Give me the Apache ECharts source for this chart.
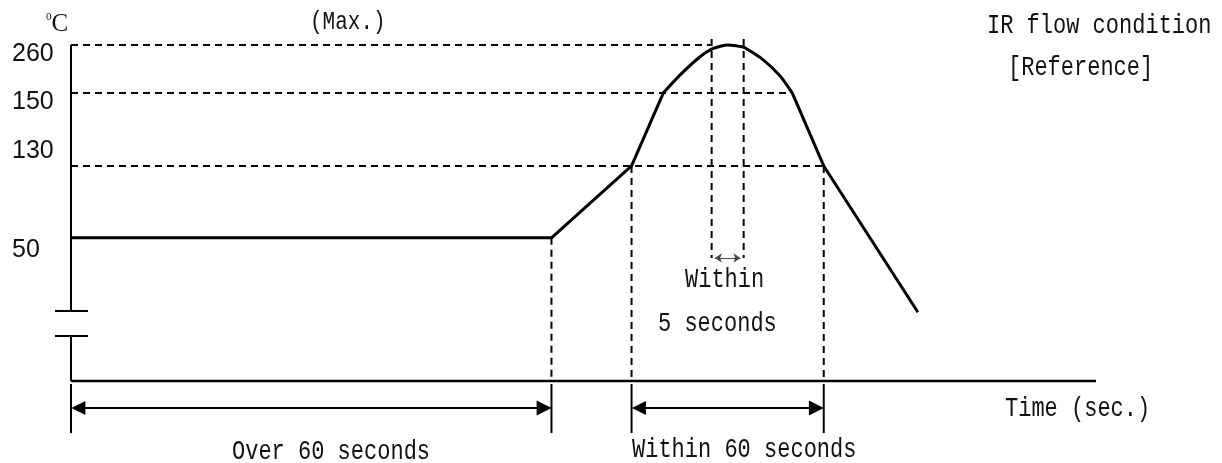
<!DOCTYPE html>
<html><head><meta charset="utf-8">
<script src="https://cdn.jsdelivr.net/npm/echarts@6/dist/echarts.min.js"></script>
<style>html,body{margin:0;padding:0;background:#fff}#c{width:1222px;height:463px}</style>
</head><body><div id="c"></div>
<script>
// ---- data (time in schematic seconds, temperature in °C) ----
const yTickLabels = ['260', '150', '130', '50'];
const yTickTemps = [260, 150, 130, 50];
const rampTime = [0, 150, 175, 184.9];
const rampTemp = [50, 50, 130, 150];
const peakTime = [184.9, 190.1, 196.4, 200.5, 205.0, 209.9, 216.1, 221.4, 225.2];
const peakTemp = [150, 191, 233, 252, 260, 255, 226, 189, 150];
const coolTime = [225.2, 235, 264.4];
const coolTemp = [150, 130, 24];
const peakWindow = [200, 210];      // "Within 5 seconds"
const preheatSpan = [0, 150];       // "Over 60 seconds"
const reflowSpan = [175, 235];      // "Within 60 seconds"
const spanLabels = ['Over 60 seconds', 'Within 60 seconds'];

// broken (schematic) temperature axis: temperature -> drawing level
const scaleTemps = [0, 50, 130, 150, 260];
const scaleLevels = [0, 42.6, 64.0, 85.7, 100];
function lvl(t) {
  let i = 1;
  while (i < scaleTemps.length - 1 && t > scaleTemps[i]) i++;
  const t0 = scaleTemps[i - 1], t1 = scaleTemps[i], l0 = scaleLevels[i - 1], l1 = scaleLevels[i];
  return l0 + (t - t0) * (l1 - l0) / (t1 - t0);
}
const pts = (xs, ts) => xs.map((x, i) => [x, lvl(ts[i])]);

const K = '#000';
function seg(data, opt) {
  opt = opt || {};
  return {
    type: 'line', data: data, showSymbol: false, symbol: 'none', clip: false, silent: true,
    animation: false, smooth: opt.smooth || false,
    lineStyle: { color: opt.color || K, width: opt.width || 2, type: opt.dash ? [7, 5] : 'solid', cap: 'butt' },
    z: opt.z || 2
  };
}
const series = [];
// axes (drawn as segments so the break can be shown)
series.push(seg([[0, 100], [0, 20.8]]));
series.push(seg([[0, 13.4], [0, 0]]));
series.push(seg([[-5, 20.8], [5.3, 20.8]]));
series.push(seg([[-5, 13.4], [5.3, 13.4]]));
series.push(seg([[0, 0], [320, 0]], { width: 2.5 }));
// dashed guides
series.push(seg([[0, lvl(260)], [peakWindow[0], lvl(260)]], { dash: true }));
series.push(seg([[0, lvl(150)], [peakTime[peakTime.length - 1], lvl(150)]], { dash: true }));
series.push(seg([[0, lvl(130)], [reflowSpan[1], lvl(130)]], { dash: true }));
series.push(seg([[preheatSpan[1], lvl(50)], [preheatSpan[1], 0]], { dash: true }));
series.push(seg([[reflowSpan[0], lvl(130)], [reflowSpan[0], 0]], { dash: true }));
series.push(seg([[reflowSpan[1], lvl(130)], [reflowSpan[1], 0]], { dash: true }));
series.push(seg([[peakWindow[0], 101.8], [peakWindow[0], 36.6]], { dash: true }));
series.push(seg([[peakWindow[1], 101.8], [peakWindow[1], 36.6]], { dash: true }));
// span markers below the time axis
[preheatSpan[0], preheatSpan[1], reflowSpan[0], reflowSpan[1]].forEach(t => {
  series.push(seg([[t, -0.9], [t, -15.5]]));
});
// profile
series.push(seg(pts(rampTime, rampTemp), { width: 3, z: 5 }));
series.push(seg(pts(peakTime, peakTemp), { width: 3, z: 5, smooth: 0.2 }));
series.push(seg(pts(coolTime, coolTemp), { width: 3, z: 5 }));
// span arrows
const h = 2.3;
series.push({
  type: 'lines', coordinateSystem: 'cartesian2d', silent: true, animation: false,
  symbol: ['triangle', 'triangle'], symbolSize: [14, 15],
  lineStyle: { color: K, width: 2, opacity: 1, curveness: 0 },
  data: [
    { coords: [[preheatSpan[0] + h, -8], [preheatSpan[1] - h, -8]] },
    { coords: [[reflowSpan[0] + h, -8], [reflowSpan[1] - h, -8]] }
  ], z: 4
});
series.push({
  type: 'lines', coordinateSystem: 'cartesian2d', silent: true, animation: false,
  symbol: ['arrow', 'arrow'], symbolSize: [7, 7],
  lineStyle: { color: '#444', width: 1, opacity: 1, curveness: 0 },
  data: [{ coords: [[peakWindow[0] + 1, 36.6], [peakWindow[1] - 1, 36.6]] }], z: 4
});

const MONO = '22px "Liberation Mono", monospace';
function txt(text, x, y, font, sy) {
  return {
    type: 'text', x: x, y: y, silent: true, scaleY: sy || 1.22, originX: 0, originY: 0,
    style: { text: text, font: font || MONO, fill: '#111', align: 'left', verticalAlign: 'middle',
             textAlign: 'left', textVerticalAlign: 'middle' }
  };
}
const yLabelCenters = [54, 102, 151, 250];
const graphics = [];
yTickLabels.forEach((s, i) => graphics.push(txt(s, 12, yLabelCenters[i], '25px "Liberation Sans", Arial, sans-serif', 1)));
graphics.push({
  type: 'text', x: 46, y: 24, silent: true,
  style: { text: '{s|0}{c|C}', align: 'left', verticalAlign: 'middle', fill: '#111',
           rich: { s: { fontSize: 11, fontFamily: 'Liberation Serif', verticalAlign: 'top', padding: [0, 0, 12, 0] },
                   c: { fontSize: 25, fontFamily: 'Liberation Serif' } } }
});
graphics.push(txt('(Max.)', 310, 22, '21px "Liberation Mono", monospace'));
graphics.push(txt('IR flow condition', 987, 26));
graphics.push(txt('[Reference]', 1008, 68));
graphics.push(txt('Within', 685, 280));
graphics.push(txt('5 seconds', 658, 324));
graphics.push(txt(spanLabels[0], 232, 452));
graphics.push(txt(spanLabels[1], 632, 450));
graphics.push(txt('Time (sec.)', 1005, 409));

const chart = echarts.init(document.getElementById('c'), null, { renderer: 'canvas' });
chart.setOption({
  animation: false,
  backgroundColor: '#fff',
  grid: { left: 38.97, right: 126, top: 45, height: 389.76 },
  xAxis: { type: 'value', min: -10, max: 320, show: false },
  yAxis: { type: 'value', min: -16, max: 100, show: false },
  series: series,
  graphic: graphics
});
</script></body></html>
